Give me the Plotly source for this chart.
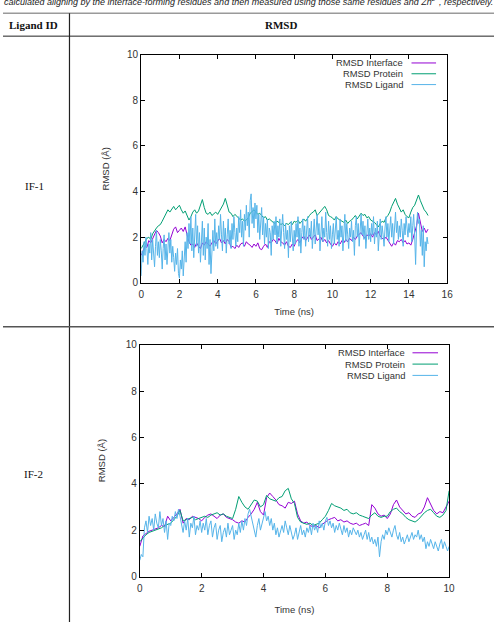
import numpy as np
import plotly.graph_objects as go

# ---------------- data ----------------
T1_STEP = 0.1      # IF-1 interface / protein sampling (ns)
T1L_STEP = 0.05    # IF-1 ligand sampling (ns)
T2_STEP = 0.1      # IF-2 interface / protein sampling (ns)
T2L_STEP = 0.05    # IF-2 ligand sampling (ns)

if1_interface = [
    1.2, 1.45, 1.6, 1.55, 1.85, 1.75, 1.95, 2.1, 2.3, 2.2,
    2.05, 1.75, 1.9, 1.8, 1.95, 1.85, 2.1, 2.35, 2.45, 2.2,
    2.3, 2.4, 2.25, 2.45, 2.1, 1.8, 1.65, 1.7, 1.55, 1.75,
    1.6, 1.5, 1.75, 1.65, 1.8, 1.7, 1.6, 1.75, 1.85, 1.7,
    1.8, 1.95, 1.75, 1.85, 1.7, 1.9, 1.8, 1.55, 1.6, 1.5,
    1.65, 1.55, 1.7, 1.75, 1.6, 1.8, 1.7, 1.65, 1.55, 1.7,
    1.6, 1.75, 1.5, 1.45, 1.6, 1.7, 1.55, 1.8, 1.75, 1.9,
    1.85, 1.7, 1.95, 1.8, 1.75, 1.65, 1.8, 1.6, 1.55, 1.7,
    1.6, 1.8, 1.9, 1.75, 1.95, 2.05, 1.85, 1.95, 2.1, 1.9,
    2.0, 2.1, 1.85, 1.95, 2.0, 1.8, 1.9, 1.75, 1.85, 1.7,
    1.6, 1.75, 1.65, 1.8, 1.7, 1.85, 1.75, 1.9, 1.8, 1.95,
    1.85, 2.0, 1.9, 2.05, 2.15, 2.2, 2.05, 1.95, 2.1, 2.05,
    2.15, 2.0, 2.2, 2.1, 2.25, 2.05, 1.95, 1.9, 2.0, 1.85,
    1.7, 1.6, 1.75, 1.65, 1.85, 1.8, 1.9, 1.75, 1.85, 1.7,
    1.75, 1.65, 1.9, 2.2, 2.5, 3.05, 2.6, 2.25, 2.4, 2.2,
    2.35,
]
if1_protein = [
    1.5, 1.65, 1.8, 1.95, 2.0, 1.9, 2.15, 2.3, 2.4, 2.5,
    2.55, 2.7, 2.85, 3.0, 3.2, 3.1, 3.25, 3.35, 3.2, 3.3,
    3.4, 3.2, 3.05, 3.15, 2.9, 2.75, 2.9, 3.1, 3.2, 3.05,
    3.15, 3.4, 3.65, 3.3, 3.05, 3.0, 3.1, 2.95, 3.05, 3.1,
    3.0, 3.15, 3.3, 3.45, 3.7, 3.35, 3.1, 3.05, 2.9, 3.0,
    2.9, 2.85, 2.75, 2.8, 2.7, 2.75, 2.85, 3.05, 3.15, 3.2,
    3.1, 3.0, 3.05, 2.95, 2.85, 2.9, 2.75, 2.8, 2.7, 2.65,
    2.6, 2.7, 2.65, 2.55, 2.6, 2.5, 2.6, 2.55, 2.65, 2.55,
    2.7, 2.65, 2.75, 2.6, 2.7, 2.8, 2.7, 2.85, 2.95, 3.05,
    3.1, 3.2, 2.95, 3.05, 3.15, 3.3, 3.35, 3.2, 2.95, 2.9,
    2.85, 2.75, 2.9, 2.8, 2.75, 2.7, 2.65, 2.75, 2.6, 2.7,
    2.75, 2.85, 2.95, 2.8, 2.9, 3.05, 2.95, 3.0, 2.85, 2.9,
    2.75, 2.7, 2.65, 2.55, 2.45, 2.6, 2.7, 2.65, 2.85, 2.95,
    3.1, 3.35, 3.5, 3.7, 3.45, 3.3, 3.1, 3.2, 3.0, 2.9,
    2.85, 3.1, 3.3, 3.4, 3.6, 3.85, 3.6, 3.35, 3.2, 3.1,
    2.95,
]
if1_ligand = [
    0.3, 1.4, 0.9, 1.8, 1.2, 2.0, 1.5, 0.8, 1.7, 1.3, 2.2, 1.0, 1.9, 1.4, 0.7, 1.6, 2.3, 1.2, 1.8, 1.1,
    1.9, 1.4, 0.6, 1.5, 2.1, 1.0, 1.7, 0.8, 1.4, 2.2, 1.3, 1.9, 0.9, 1.6, 1.1, 0.5, 1.3, 0.8, 1.5, 0.4,
    0.2, 1.0, 0.6, 1.4, 0.3, 1.2, 1.8, 0.9, 2.2, 1.5, 2.6, 1.7, 2.9, 1.4, 2.4, 1.1, 2.0, 3.0, 1.6, 2.5,
    1.3, 2.2, 0.9, 1.8, 2.7, 1.2, 2.4, 1.0, 2.0, 1.5, 2.6, 0.8, 1.9, 0.4, 1.5, 2.3, 1.4, 2.8, 1.6, 2.2,
    1.5, 2.5, 1.9, 3.0, 2.1, 1.4, 2.7, 1.8, 2.4, 1.3, 2.1, 2.8, 1.7, 2.3, 1.5, 2.6, 1.9, 2.9, 2.2, 1.6,
    2.4, 1.8, 2.9, 2.2, 3.2, 2.0, 2.7, 1.6, 3.0, 2.3, 3.4, 2.5, 3.1, 2.0, 3.6, 3.9, 2.6, 3.3, 2.4, 3.5,
    2.8, 3.4, 2.2, 3.0, 1.9, 2.7, 3.3, 2.1, 2.9, 1.7, 2.6, 2.0, 2.8, 1.5, 2.4, 2.2, 1.2, 2.5, 1.9, 2.7,
    2.1, 2.9, 1.7, 2.5, 2.0, 2.8, 1.6, 2.4, 3.0, 2.2, 1.5, 2.6, 1.9, 2.3, 1.1, 2.5, 1.8, 2.7, 2.0, 1.4,
    2.3, 1.7, 2.6, 2.0, 2.9, 1.6, 2.4, 1.3, 2.2, 2.8, 1.9, 2.5, 1.6, 2.3, 2.9, 1.8, 2.4, 2.0, 2.7, 1.5,
    2.2, 2.8, 1.7, 2.5, 3.0, 2.1, 2.6, 1.4, 2.3, 2.9, 1.8, 2.4, 2.0, 3.1, 2.2, 1.6, 2.7, 1.9, 2.5, 1.5,
    2.1, 2.6, 1.7, 2.4, 2.9, 1.9, 2.3, 1.6, 2.8, 2.0, 2.5, 1.4, 2.2, 3.0, 1.8, 2.6, 2.1, 1.5, 2.4, 2.0,
    2.7, 1.8, 2.3, 1.2, 2.5, 2.9, 2.0, 2.6, 1.6, 2.4, 3.0, 2.1, 2.7, 1.9, 2.5, 1.5, 2.3, 2.8, 1.9, 2.4,
    1.8, 2.6, 2.1, 2.9, 1.7, 2.4, 2.0, 2.7, 1.4, 2.2, 2.8, 1.9, 2.5, 2.1, 1.6, 2.4, 2.9, 2.0, 2.6, 1.8,
    2.3, 2.9, 2.0, 2.6, 1.7, 2.4, 3.1, 2.2, 2.7, 1.9, 2.5, 2.0, 2.8, 2.3, 1.6, 2.6, 2.1, 2.9, 2.4, 2.0,
    2.6, 2.2, 2.9, 1.8, 2.5, 3.0, 2.1, 0.8, 2.4, 3.1, 2.6, 2.8, 1.6, 2.3, 1.2, 2.5, 0.7, 1.8, 1.4, 2.0,
    1.7,
]

if2_interface = [
    1.3, 1.75, 1.85, 1.95, 2.0, 2.05, 2.1, 2.2, 2.15, 2.6,
    2.4, 2.55, 2.7, 2.9, 2.3, 2.5, 2.45, 2.6, 2.55, 2.5,
    2.4, 2.55, 2.65, 2.7, 2.6, 2.5, 2.65, 2.7, 2.55, 2.5,
    2.45, 2.35, 2.3, 2.4, 2.35, 2.55, 2.7, 2.9, 3.2, 2.8,
    2.65, 3.4, 3.6, 3.45, 3.3, 3.1, 3.05, 2.95, 3.2, 3.15,
    3.25, 2.7, 2.4, 2.3, 2.35, 2.2, 2.15, 2.2, 2.1, 2.25,
    2.35, 2.45, 2.5, 2.55, 2.4, 2.45, 2.35, 2.4, 2.3, 2.25,
    2.3, 2.2, 2.25, 2.3, 2.2, 3.1, 2.95, 2.7, 2.6, 2.65,
    2.5, 2.7, 3.1, 3.3, 3.0, 2.85, 2.7, 2.75, 2.6, 2.55,
    2.7, 2.75, 3.0, 3.4, 3.1, 2.85, 2.7, 2.8, 2.75, 3.0,
    3.25,
]
if2_protein = [
    1.5, 1.65, 1.8, 1.9, 1.95, 2.0, 2.05, 2.1, 2.2, 2.25,
    2.3, 2.45, 2.6, 2.85, 2.4, 2.45, 2.5, 2.55, 2.45, 2.5,
    2.55, 2.6, 2.55, 2.65, 2.7, 2.75, 2.65, 2.7, 2.6, 2.55,
    2.5, 2.9, 3.45, 3.2, 3.0, 2.9, 3.1, 3.3, 3.25, 3.0,
    3.1, 3.5, 3.35, 3.3, 3.25, 3.4, 3.45, 3.7, 3.8, 3.35,
    3.15, 2.55, 2.35, 2.3, 2.25, 2.3, 2.2, 2.25, 2.3, 2.45,
    2.6, 2.85, 3.15, 3.05, 3.0, 2.95, 2.85, 2.9, 2.75, 2.7,
    2.75, 2.65, 2.6, 2.55, 2.5, 2.65, 2.75, 2.6, 2.55, 2.6,
    2.6, 2.8, 2.9, 2.95, 2.8, 2.7, 2.55, 2.45, 2.4, 2.35,
    2.45, 2.6, 2.75, 2.85, 2.9, 2.75, 2.6, 2.55, 2.65, 2.85,
    3.7,
]
if2_ligand = [
    0.7, 0.95, 0.85, 2.1, 2.4, 1.9, 2.6, 2.2, 2.5, 2.0, 2.7, 2.3, 2.1, 2.8, 2.2, 2.5, 1.9, 2.4, 1.6, 2.3,
    2.2, 2.6, 2.4, 2.8, 2.5, 2.9, 2.6, 2.2, 1.9, 2.4, 2.0, 2.5, 1.7, 2.3, 2.1, 2.6, 1.8, 2.2, 2.0, 2.4,
    1.9, 2.3, 2.0, 2.5, 1.8, 2.2, 2.4, 1.7, 2.1, 2.3, 1.6, 2.0, 2.2, 1.5, 1.9, 2.1, 1.7, 2.3, 1.8, 2.0,
    2.2, 1.6, 2.0, 1.8, 2.3, 1.9, 2.4, 2.0, 2.5, 2.2, 2.7, 2.9, 2.6, 2.3, 1.9, 1.7, 2.2, 2.5, 2.0, 2.3,
    2.5, 2.8, 2.4, 2.6, 2.2, 2.5, 2.0, 2.3, 1.8, 2.1, 1.7, 2.0, 2.2, 1.9, 2.4, 2.1, 1.8, 2.2, 1.9, 1.6,
    1.8, 2.1, 1.6, 1.9, 2.2, 1.8, 2.0, 1.7, 2.1, 1.9, 2.2, 1.8, 2.3, 2.0, 2.2, 1.9, 2.4, 2.1, 2.3, 2.0,
    2.4, 2.55, 2.2, 2.4, 2.1, 2.3, 1.9, 2.2, 2.0, 2.3, 2.1, 1.8, 2.2, 1.9, 2.1, 1.7, 2.0, 1.8, 2.1, 1.9,
    1.8, 2.0, 1.7, 1.9, 1.6, 1.8, 2.0, 1.6, 1.9, 1.5, 1.7, 1.4, 1.6, 1.3, 1.7, 0.85, 1.5, 1.8, 1.6, 2.0,
    1.8, 2.1, 1.9, 1.7, 2.0, 2.2, 1.8, 1.6, 1.9, 1.5, 1.7, 1.4, 1.6, 1.8, 1.5, 1.7, 1.9, 1.6, 1.8, 1.7,
    2.0, 1.6, 1.8, 1.5, 1.7, 1.2, 1.5, 1.3, 1.6, 1.4, 1.2, 1.5, 1.3, 1.1, 1.4, 1.6, 1.2, 1.5, 1.3, 1.1,
    1.3,
]

series_names = ["RMSD Interface", "RMSD Protein", "RMSD Ligand"]
ligand_ids = ["IF-1", "IF-2"]
x_ticks_1 = [0, 2, 4, 6, 8, 10, 12, 14, 16]
x_ticks_2 = [0, 2, 4, 6, 8, 10]
y_ticks = [0, 2, 4, 6, 8, 10]

# ---------------- styling ----------------
COLORS = ["#9400d3", "#009e73", "#56b4e9"]
W, H = 500, 628
SANS = "Liberation Sans, Arial, sans-serif"
SERIF = "Liberation Serif, Times New Roman, serif"


def px(x):
    return x / W


def py(y):
    return 1 - y / H


def grid(n, step):
    return np.round(np.arange(n) * step, 3)


fig = go.Figure()

panels = [
    dict(xa="x", ya="y", data=[(if1_interface, T1_STEP), (if1_protein, T1_STEP), (if1_ligand, T1L_STEP)]),
    dict(xa="x2", ya="y2", data=[(if2_interface, T2_STEP), (if2_protein, T2_STEP), (if2_ligand, T2L_STEP)]),
]
for p in panels:
    for i, (vals, step) in enumerate(p["data"]):
        fig.add_trace(go.Scatter(
            x=grid(len(vals), step), y=vals, mode="lines",
            line=dict(color=COLORS[i], width=1),
            name=series_names[i], showlegend=False,
            xaxis=p["xa"], yaxis=p["ya"], hoverinfo="skip",
        ))

axis_common = dict(
    showgrid=False, zeroline=False, showline=True, linecolor="#000000", linewidth=1,
    mirror="ticks", ticks="inside", ticklen=4, tickwidth=1, tickcolor="#000000",
    tickfont=dict(family=SANS, size=10, color="#333333"),
)
title_font = dict(family=SANS, size=9.5, color="#333333")

fig.update_layout(
    width=W, height=H, margin=dict(l=0, r=0, t=0, b=0),
    paper_bgcolor="white", plot_bgcolor="white", showlegend=False,
    xaxis=dict(domain=[px(140.7), px(452.3)], range=[0, 16], tickvals=x_ticks_1, anchor="y",
               ticklabelstandoff=2,
               title=dict(text="Time (ns)", font=title_font, standoff=9), **axis_common),
    yaxis=dict(domain=[py(282.7), py(50.7)], range=[0, 10], tickvals=y_ticks, anchor="x",
               title=dict(text="RMSD (Å)", font=title_font, standoff=15), **axis_common),
    xaxis2=dict(domain=[px(139.3), px(454.3)], range=[0, 10], tickvals=x_ticks_2, anchor="y2",
                ticklabelstandoff=2,
                title=dict(text="Time (ns)", font=title_font, standoff=13), **axis_common),
    yaxis2=dict(domain=[py(581.7), py(345.7)], range=[0, 10], tickvals=y_ticks, anchor="x2",
                title=dict(text="RMSD (Å)", font=title_font, standoff=18), **axis_common),
)

shapes = []
annotations = []

# manual gnuplot-style legends (text right-aligned, sample line on the right)
legend_specs = [
    dict(text_right=409.5, l0=416, l1=441, rows=[59, 70, 81]),
    dict(text_right=411.5, l0=417, l1=443, rows=[354, 365.5, 377]),
]
for spec in legend_specs:
    for i, yrow in enumerate(spec["rows"]):
        annotations.append(dict(
            x=px(spec["text_right"]), y=py(yrow), xref="paper", yref="paper",
            text=series_names[i], showarrow=False, xanchor="right", yanchor="middle",
            font=dict(family=SANS, size=9.4, color="#333333"),
        ))
        shapes.append(dict(type="line", xref="paper", yref="paper",
                           x0=px(spec["l0"]), x1=px(spec["l1"]), y0=py(yrow), y1=py(yrow),
                           line=dict(color=COLORS[i], width=1)))

# table lines
shapes += [
    dict(type="line", xref="paper", yref="paper", x0=0, x1=1, y0=py(8.5), y1=py(8.5),
         line=dict(color="#9a9a9a", width=1.5)),
    dict(type="line", xref="paper", yref="paper", x0=0, x1=1, y0=py(31.7), y1=py(31.7),
         line=dict(color="#222222", width=1)),
    dict(type="line", xref="paper", yref="paper", x0=px(67.7), x1=px(67.7), y0=py(8.5), y1=0,
         line=dict(color="#222222", width=1.2)),
    dict(type="line", xref="paper", yref="paper", x0=0, x1=1, y0=py(327.5), y1=py(327.5),
         line=dict(color="#555555", width=1.5)),
]

# table texts (caption is cut off by the top edge, as in the source)
annotations += [
    dict(x=px(250), y=py(-4.0), xref="paper", yref="paper", showarrow=False,
         text="<i>calculated aligning by the interface-forming residues and then measured using those same residues and Zn<sup>2+</sup>, respectively.</i>",
         font=dict(family=SANS, size=9, color="#222222"), xanchor="center", yanchor="middle"),
    dict(x=px(31), y=py(20), xref="paper", yref="paper", showarrow=False, text="<b>Ligand ID</b>",
         font=dict(family=SERIF, size=11, color="#111111"), xanchor="center", yanchor="middle"),
    dict(x=px(283), y=py(20), xref="paper", yref="paper", showarrow=False, text="<b>RMSD</b>",
         font=dict(family=SERIF, size=11, color="#111111"), xanchor="center", yanchor="middle"),
    dict(x=px(32), y=py(184), xref="paper", yref="paper", showarrow=False, text=ligand_ids[0],
         font=dict(family=SERIF, size=11, color="#111111"), xanchor="center", yanchor="middle"),
    dict(x=px(31), y=py(477), xref="paper", yref="paper", showarrow=False, text=ligand_ids[1],
         font=dict(family=SERIF, size=11, color="#111111"), xanchor="center", yanchor="middle"),
]

fig.update_layout(shapes=shapes, annotations=annotations)
fig.write_html("out.html")
